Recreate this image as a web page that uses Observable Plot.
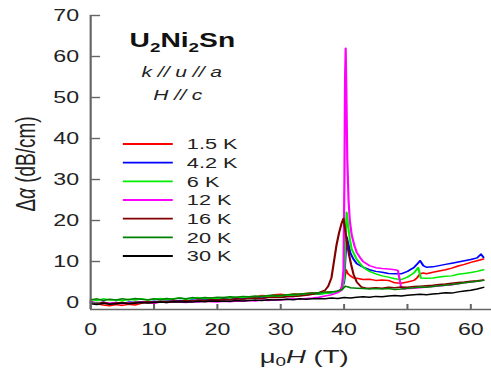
<!DOCTYPE html>
<html><head><meta charset="utf-8">
<script src="https://cdn.jsdelivr.net/npm/d3@7"></script>
<script src="https://cdn.jsdelivr.net/npm/@observablehq/plot@0.6"></script>
<style>
body{margin:0;background:#fff;overflow:hidden}
#wrap{width:491px;height:370px;overflow:hidden}
#wrap svg{transform-origin:0 0;transform:scaleX(1.4484);display:block}
</style></head><body><div id="wrap"></div>
<script>
const temps = ["1.5 K","4.2 K","6 K","12 K","16 K","20 K","30 K"];
const colors = ["#ff0000","#0000ff","#00ee00","#ff00ff","#800000","#008000","#000000"];
const xTicks = [0,10,20,30,40,50,60];
const yTicks = [0,10,20,30,40,50,60,70];
const xDomain = [0, 63.3];
const yDomain = [-1.7, 70];

const s1 = [[0,0.2],[1,-0.3],[2,-0.6],[3,-0.8],[4,-0.5],[5,-0.7],[6,-0.4],[7,-0.6],[8,-0.2],[9,0],[10,-0.1],[11,0.2],[12,0.1],[13,0.3],[14,0.2],[15,0.4],[16,0.3],[17,0.5],[18,0.4],[19,0.6],[20,0.5],[21,0.8],[22,0.7],[23,1.0],[24,1.1],[25,1.4],[26,1.3],[27,1.7],[28,1.6],[29,1.9],[30,2.0],[31,1.8],[32,2.1],[33,2.0],[34,2.2],[35,2.4],[36,2.3],[37,2.5],[38,2.5],[39,2.7],[39.5,3.2],[40,5.5],[40.3,8.0],[40.6,7.0],[41,6.5],[41.5,6.0],[42,5.9],[43,5.6],[44,5.7],[45,5.4],[46,5.5],[47,5.4],[48,4.8],[49,4.7],[50,5.0],[51,5.4],[51.5,6.0],[52,7.0],[52.5,7.2],[53,7.0],[54,7.4],[55,7.7],[56,8.0],[57,8.4],[58,8.9],[59,9.3],[60,9.8],[61,10.2],[62,10.6]];
const s2 = [[0,0],[1,-0.2],[2,0.1],[3,-0.3],[4,0],[5,-0.2],[6,0.1],[7,0],[8,0.2],[9,0.1],[10,0.3],[11,0.2],[12,0.4],[13,0.3],[14,0.5],[15,0.4],[16,0.6],[17,0.5],[18,0.7],[19,0.6],[20,0.8],[21,0.9],[22,0.8],[23,1.0],[24,0.9],[25,1.1],[26,1.2],[27,1.1],[28,1.3],[29,1.4],[30,1.3],[31,1.6],[32,1.5],[33,1.8],[34,1.9],[35,2.1],[36,2.0],[37,2.3],[38,2.4],[39,2.7],[39.6,3.2],[40,5],[40.2,11],[40.4,16],[40.7,14],[41,12],[41.5,10.5],[42,9.5],[43,8.6],[44,8.0],[45,7.6],[46,7.4],[47,7.1],[48,7.0],[49,7.0],[50,7.6],[51,8.5],[51.6,9.5],[52,10.2],[52.5,9.0],[53,8.6],[54,8.7],[55,9.0],[56,9.3],[57,9.6],[58,9.9],[59,10.2],[60,10.5],[61,10.9],[61.6,11.8],[62,11.0]];
const s3 = [[0,0.8],[1,0.5],[2,0.9],[3,0.6],[4,0.7],[5,0.4],[6,0.8],[7,0.6],[8,0.9],[9,0.7],[10,0.8],[11,1.0],[12,0.7],[13,0.9],[14,1.1],[15,0.8],[16,1.0],[17,1.2],[18,0.9],[19,1.1],[20,1.0],[21,1.2],[22,1.1],[23,1.3],[24,1.2],[25,1.4],[26,1.3],[27,1.5],[28,1.4],[29,1.6],[30,1.5],[31,1.7],[32,1.8],[33,1.7],[34,1.9],[35,2.0],[36,2.1],[37,2.2],[38,2.4],[39,2.7],[39.7,3.2],[40,6],[40.2,15],[40.4,22],[40.6,19],[40.9,15.5],[41.2,13],[41.6,11.8],[42,10.5],[43,8.6],[44,7.6],[45,7.0],[46,6.5],[47,6.2],[48,5.8],[49,5.6],[50,6.2],[51,7.2],[51.7,8.5],[52.1,6.0],[53,5.9],[54,6.0],[55,6.2],[56,6.4],[57,6.5],[58,6.9],[59,7.1],[60,7.3],[61,7.6],[62,8.0]];
const s4 = [[0,0.2],[1,-0.1],[2,0.1],[3,-0.2],[4,0],[5,-0.3],[6,0],[7,-0.1],[8,0.1],[9,0],[10,-0.2],[11,0.1],[12,0],[13,0.2],[14,0.1],[15,0],[16,0.2],[17,0.1],[18,0.3],[19,0.2],[20,0.1],[21,0.3],[22,0.2],[23,0.4],[24,0.3],[25,0.5],[26,0.4],[27,0.6],[28,0.5],[29,0.7],[30,0.6],[31,0.8],[32,0.9],[33,0.8],[34,1.0],[35,1.1],[36,1.3],[37,1.6],[38,1.9],[39,2.4],[39.6,3.0],[39.9,8],[40.05,30],[40.15,55],[40.25,62],[40.35,52],[40.5,35],[40.7,25],[40.9,20],[41.2,16.5],[41.6,14],[42,12.2],[42.5,11],[43,10],[44,9],[45,8.5],[46,8.3],[47,8.2],[48,8.0],[48.5,7.8],[49,3.6],[49.5,3.3],[50,3.4],[51,3.5],[52,3.6],[53,3.8],[54,3.9],[55,4.0],[56,4.2],[57,4.3],[58,4.6],[59,4.8],[60,5.0],[61,5.2],[62,5.4]];
const s5 = [[0,0.1],[1,-0.2],[2,0],[3,-0.3],[4,-0.1],[5,0],[6,-0.2],[7,0.1],[8,0],[9,0.2],[10,0.1],[11,0.3],[12,0.2],[13,0.4],[14,0.3],[15,0.5],[16,0.4],[17,0.6],[18,0.5],[19,0.7],[20,0.6],[21,0.8],[22,0.7],[23,0.9],[24,0.8],[25,1.0],[26,1.1],[27,1.0],[28,1.2],[29,1.3],[30,1.2],[31,1.4],[32,1.5],[33,1.6],[34,1.8],[35,2.0],[36,2.4],[37,3.0],[37.5,4.0],[38,6.0],[38.4,10],[38.8,14],[39.2,17],[39.6,19.3],[39.9,20.5],[40.2,17.5],[40.5,14],[40.8,11.5],[41.1,9.3],[41.5,6.8],[42,5.0],[42.7,3.8],[43.5,3.5],[44,3.5],[45,3.6],[46,3.5],[47,3.7],[48,3.6],[49,3.8],[50,3.7],[51,3.9],[52,4.0],[53,4.1],[54,4.2],[55,4.4],[56,4.5],[57,4.7],[58,4.9],[59,5.0],[60,5.2],[61,5.3],[62,5.5]];
const s6 = [[0,0.6],[1,0.9],[2,0.5],[3,0.8],[4,0.6],[5,0.9],[6,0.7],[7,1.0],[8,0.8],[9,0.6],[10,0.9],[11,0.7],[12,1.0],[13,0.8],[14,1.1],[15,0.9],[16,1.2],[17,1.0],[18,1.2],[19,1.1],[20,1.3],[21,1.2],[22,1.4],[23,1.3],[24,1.5],[25,1.4],[26,1.6],[27,1.5],[28,1.7],[29,1.8],[30,1.7],[31,1.9],[32,2.0],[33,2.1],[34,2.2],[35,2.3],[36,2.4],[37,2.5],[38,2.6],[39,2.8],[39.7,3.2],[40.2,4.0],[41,3.6],[42,3.5],[43,3.4],[44,3.3],[45,3.4],[46,3.3],[47,3.4],[48,3.2],[49,3.3],[50,3.5],[51,3.6],[52,3.8],[53,3.7],[54,3.9],[55,4.1],[56,4.2],[57,4.4],[58,4.6],[59,4.8],[60,5.0],[61,5.2],[62,5.4]];
const s7 = [[0,-0.3],[1,-0.5],[2,-0.2],[3,-0.4],[4,-0.3],[5,-0.1],[6,-0.3],[7,-0.2],[8,0],[9,-0.1],[10,0],[11,0.1],[12,0],[13,0.2],[14,0.1],[15,0.2],[16,0.1],[17,0.3],[18,0.2],[19,0.4],[20,0.3],[21,0.4],[22,0.3],[23,0.5],[24,0.4],[25,0.5],[26,0.6],[27,0.5],[28,0.7],[29,0.6],[30,0.7],[31,0.8],[32,0.7],[33,0.9],[34,0.8],[35,0.9],[36,1.0],[37,0.9],[38,1.1],[39,1.0],[40,1.2],[41,1.1],[42,1.3],[43,1.4],[44,1.3],[45,1.5],[46,1.4],[47,1.6],[48,1.7],[49,1.6],[50,1.8],[51,1.9],[52,2.0],[53,1.9],[54,2.1],[55,2.2],[56,2.4],[57,2.3],[58,2.6],[59,2.8],[60,3.0],[61,3.3],[62,3.7]];

const series = [s1,s2,s3,s4,s5,s6,s7];
const rows = series.flatMap((s, i) => s.map(([h, a]) => ({t: temps[i], h, a})));

const S = 1.4484;
const W = 339, H = 370;
const axisColor = "#666";
const font = "'Liberation Sans', Arial, sans-serif";

const plot = Plot.plot({
  width: W, height: H,
  marginLeft: 62.1, marginRight: 0, marginTop: 15, marginBottom: 61,
  style: {fontFamily: font, fontSize: "16px", color: "#222", background: "#fff", overflow: "visible"},
  x: {domain: xDomain, label: null},
  y: {domain: yDomain, label: null},
  color: {domain: temps, range: colors},
  marks: [
    Plot.line(rows, {x: "h", y: "a", z: "t", stroke: "t", strokeWidth: 1.5, strokeLinejoin: "round"}),
    Plot.axisX(xTicks, {tickSize: -5, tickPadding: 19, stroke: axisColor, strokeWidth: 1.4, fill: "#222", fontSize: 16}),
    Plot.axisY(yTicks, {tickSize: -7, tickPadding: 15, stroke: axisColor, strokeWidth: 1.4, fill: "#222", fontSize: 16}),
    Plot.ruleX([xDomain[0]], {stroke: axisColor, strokeWidth: 1.5}),
    Plot.ruleY([yDomain[0]], {stroke: axisColor, strokeWidth: 1.6})
  ]
});

const svg = d3.select(plot);
// Title block
const t1 = svg.append("text").attr("x", 125.9).attr("y", 47).attr("text-anchor", "middle")
  .attr("font-family", font).attr("font-weight", "bold").attr("font-size", 19.5).attr("fill", "#111");
t1.append("tspan").text("U");
t1.append("tspan").attr("font-size", 13).attr("dy", 5).text("2");
t1.append("tspan").attr("dy", -5).text("Ni");
t1.append("tspan").attr("font-size", 13).attr("dy", 5).text("2");
t1.append("tspan").attr("dy", -5).text("Sn");
svg.append("text").attr("x", 125.5).attr("y", 76.7).attr("text-anchor", "middle")
  .attr("font-family", font).attr("font-style", "italic").attr("font-size", 14.5).attr("fill", "#222").text("k // u // a");
svg.append("text").attr("x", 122.8).attr("y", 100).attr("text-anchor", "middle")
  .attr("font-family", font).attr("font-style", "italic").attr("font-size", 14.5).attr("fill", "#222").text("H // c");

// Legend
const legY = [144, 162.7, 181.3, 200, 218.7, 237.3, 256];
temps.forEach((t, i) => {
  svg.append("line").attr("x1", 84.8).attr("x2", 119.3).attr("y1", legY[i]).attr("y2", legY[i])
    .attr("stroke", colors[i]).attr("stroke-width", 1.8);
  svg.append("text").attr("x", 129).attr("y", legY[i]).attr("dy", "0.36em").attr("text-anchor", "start")
    .attr("font-family", font).attr("font-size", 15).attr("fill", "#222").text(t);
});

// X axis title
const xl = svg.append("text").attr("x", 210).attr("y", 363).attr("text-anchor", "middle")
  .attr("font-family", font).attr("font-size", 19).attr("fill", "#222");
xl.append("tspan").text("\u03bc");
xl.append("tspan").attr("font-size", 13).attr("dy", 3).text("0");
xl.append("tspan").attr("dy", -3).attr("font-style", "italic").text("H");
xl.append("tspan").text(" (T)");

// Y axis title
const yl = svg.append("text").attr("transform", "translate(24,164) rotate(-90)").attr("text-anchor", "middle")
  .attr("font-family", font).attr("font-size", 19).attr("fill", "#222");
yl.append("tspan").text("\u0394");
yl.append("tspan").attr("font-style", "italic").text("\u03b1");
yl.append("tspan").text(" (dB/cm)");

document.getElementById("wrap").appendChild(plot);
</script></body></html>
